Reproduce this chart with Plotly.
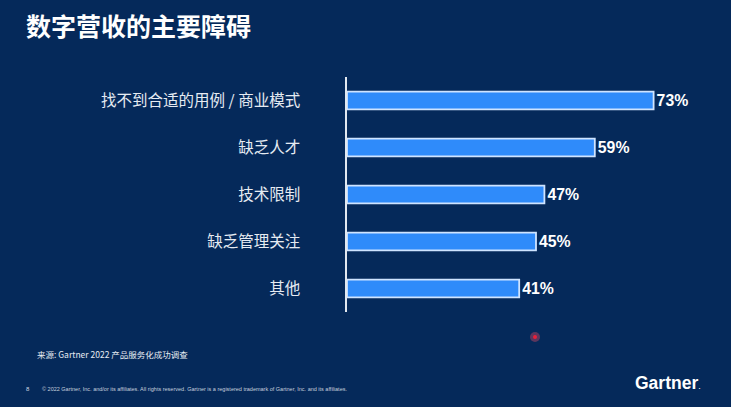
import plotly.graph_objects as go

categories = ["找不到合适的用例 / 商业模式", "缺乏人才", "技术限制", "缺乏管理关注", "其他"]
values = [73, 59, 47, 45, 41]
value_labels = ["73%", "59%", "47%", "45%", "41%"]

title_text = "数字营收的主要障碍"
source_text = "来源: Gartner 2022 产品服务化成功调查"
copyright_text = ("© 2022 Gartner, Inc. and/or its affiliates. All rights reserved. "
                  "Gartner is a registered trademark of Gartner, Inc. and its affiliates.")

BG = "#05295a"
BAR = "#2f8bfa"
CJK = "Noto Sans CJK SC"
LATIN = "Liberation Sans, Noto Sans CJK SC"

# plot area in pixels
W_FIG, H_FIG = 731, 407
L, R, T, B = 347, 27, 77, 95
PW, PH = W_FIG - L - R, H_FIG - T - B


def px(x):
    return (x - L) / PW


def py(y):
    return 1 - (y - T) / PH


fig = go.Figure()
fig.add_trace(go.Bar(
    x=values,
    y=categories,
    orientation="h",
    text=value_labels,
    textposition="outside",
    cliponaxis=False,
    textfont={"family": LATIN, "size": 18, "color": "white", "weight": "bold"},
    marker={"color": BAR, "line": {"color": "#cfe4ff", "width": 1.8}},
    hoverinfo="skip",
))

annotations = [
    dict(text=source_text, x=px(35), y=py(354), xanchor="left", yanchor="middle",
         font={"family": CJK, "size": 8.5, "color": "#e6ebf2"}),
    dict(text="8", x=px(24), y=py(389), xanchor="left", yanchor="middle",
         font={"family": LATIN, "size": 6, "color": "#d0d8e4"}),
    dict(text=copyright_text, x=px(40), y=py(389), xanchor="left", yanchor="middle",
         font={"family": LATIN, "size": 5.5, "color": "#c6d0de"}),
    dict(text="<b>Gartner</b><span style='font-size:9px'>.</span>", x=px(703), y=py(383),
         xanchor="right", yanchor="middle",
         font={"family": LATIN, "size": 17.5, "color": "white"}),
]
for a in annotations:
    a.update(xref="paper", yref="paper", showarrow=False)

fig.update_layout(
    width=W_FIG,
    height=H_FIG,
    paper_bgcolor=BG,
    plot_bgcolor=BG,
    margin={"l": L, "r": R, "t": T, "b": B},
    bargap=0.626,
    showlegend=False,
    title={
        "text": f"<b>{title_text}</b>",
        "xref": "container", "yref": "container",
        "x": 26 / W_FIG, "xanchor": "left",
        "y": 1 - 27 / H_FIG, "yanchor": "middle",
        "font": {"family": CJK, "size": 25, "color": "white"},
    },
    xaxis={"range": [0, 85], "visible": False, "fixedrange": True},
    yaxis={
        "autorange": "reversed",
        "showline": True,
        "linecolor": "#e2e8f0",
        "linewidth": 1.5,
        "showgrid": False,
        "zeroline": False,
        "ticks": "",
        "ticklabelstandoff": 42,
        "fixedrange": True,
        "tickfont": {"family": CJK, "size": 15.5, "color": "#e6ebf2"},
    },
    annotations=annotations,
    shapes=[
        dict(type="circle", xref="paper", yref="paper",
             x0=px(530), x1=px(540), y0=py(342), y1=py(332),
             fillcolor="rgba(255,80,100,0.35)", line={"width": 0}),
        dict(type="circle", xref="paper", yref="paper",
             x0=px(533), x1=px(537), y0=py(339), y1=py(335),
             fillcolor="#e8203a", line={"width": 0}),
    ],
)

fig.write_html(
    "out.html",
    config={"displayModeBar": False},
    post_script="document.body.style.margin='0';document.body.style.background='#05295a';",
)
